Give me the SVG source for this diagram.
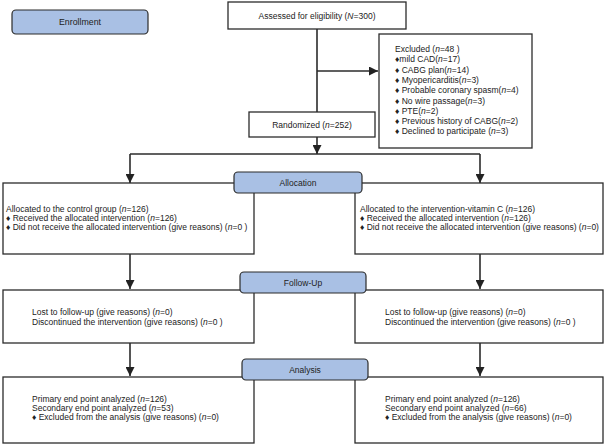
<svg xmlns="http://www.w3.org/2000/svg" width="606" height="444" viewBox="0 0 606 444">
<defs>
<style>
.box{fill:#fff;stroke:#2b2b2b;stroke-width:1.3}
.lbl{fill:#a9c0e4;stroke:#2b2b2b;stroke-width:1.2}
.t{font-family:"Liberation Sans",Arial,sans-serif;font-size:8.5px;fill:#222}
.c{text-anchor:middle}
.ln{fill:none;stroke:#2b2b2b;stroke-width:1.6}
.i{font-style:italic}
</style>
<marker id="ah" viewBox="0 0 10 10" refX="10" refY="5" markerWidth="9" markerHeight="9" markerUnits="userSpaceOnUse" orient="auto">
<path d="M0,0 L10,5 L0,10 Z" fill="#222"/>
</marker>
</defs>
<rect width="606" height="444" fill="#fff"/>
<g id="connectors">
<path class="ln" d="M317,29 V112"/>
<path class="ln" d="M317,71 H378" marker-end="url(#ah)"/>
<path class="ln" d="M317,137 V154" marker-end="url(#ah)"/>
<path class="ln" d="M130,154 H480"/>
<path class="ln" d="M130,154 V183" marker-end="url(#ah)"/>
<path class="ln" d="M480,154 V183" marker-end="url(#ah)"/>
<path class="ln" d="M130,254 V289" marker-end="url(#ah)"/>
<path class="ln" d="M480,254 V289" marker-end="url(#ah)"/>
<path class="ln" d="M130,343 V376" marker-end="url(#ah)"/>
<path class="ln" d="M480,343 V376" marker-end="url(#ah)"/>
</g>
<g id="enrollment">
<rect class="lbl" x="12" y="10" width="136" height="24" rx="4"/>
<text class="t c" x="80" y="25" style="font-size:8.8px">Enrollment</text>
</g>
<g id="assessed">
<rect class="box" x="228" y="2" width="178" height="27"/>
<text class="t c" x="317" y="19">Assessed for eligibility (<tspan class="i">N</tspan>=300)</text>
</g>
<g id="excluded">
<rect class="box" x="379" y="34" width="153" height="114"/>
<text class="t" x="395" y="52">Excluded (<tspan class="i">n</tspan>=48 )</text>
<text class="t" x="395" y="62.3">♦mild CAD(<tspan class="i">n</tspan>=17)</text>
<text class="t" x="395" y="72.6">♦ CABG plan(<tspan class="i">n</tspan>=14)</text>
<text class="t" x="395" y="82.9">♦ Myopericarditis(<tspan class="i">n</tspan>=3)</text>
<text class="t" x="395" y="93.2">♦ Probable coronary spasm(<tspan class="i">n</tspan>=4)</text>
<text class="t" x="395" y="103.5">♦ No wire passage(<tspan class="i">n</tspan>=3)</text>
<text class="t" x="395" y="113.8">♦ PTE(<tspan class="i">n</tspan>=2)</text>
<text class="t" x="395" y="124.1">♦ Previous history of CABG(<tspan class="i">n</tspan>=2)</text>
<text class="t" x="395" y="134.4">♦ Declined to participate (<tspan class="i">n</tspan>=3)</text>
</g>
<g id="randomized">
<rect class="box" x="249" y="112" width="126" height="25"/>
<text class="t c" x="312" y="127.5">Randomized (<tspan class="i">n</tspan>=252)</text>
</g>
<g id="alloc-left">
<rect class="box" x="3" y="183" width="251" height="71"/>
<text class="t" x="6" y="212">Allocated to the control group (<tspan class="i">n</tspan>=126)</text>
<text class="t" x="6" y="221">♦ Received the allocated intervention (<tspan class="i">n</tspan>=126)</text>
<text class="t" x="6" y="230">♦ Did not receive the allocated intervention (give reasons) (<tspan class="i">n</tspan>=0 )</text>
</g>
<g id="alloc-right">
<rect class="box" x="355" y="183" width="248" height="71"/>
<text class="t" x="360" y="212">Allocated to the intervention-vitamin C (<tspan class="i">n</tspan>=126)</text>
<text class="t" x="360" y="221">♦ Received the allocated intervention (<tspan class="i">n</tspan>=126)</text>
<text class="t" x="360" y="230">♦ Did not receive the allocated intervention (give reasons) (<tspan class="i">n</tspan>=0)</text>
</g>
<g id="allocation">
<rect class="lbl" x="234" y="172" width="128" height="21" rx="4"/>
<text class="t c" x="298" y="185.5">Allocation</text>
</g>
<g id="follow-left">
<rect class="box" x="3" y="290" width="251" height="53"/>
<text class="t" x="32" y="315">Lost to follow-up (give reasons) (<tspan class="i">n</tspan>=0)</text>
<text class="t" x="32" y="324.5">Discontinued the intervention (give reasons) (<tspan class="i">n</tspan>=0 )</text>
</g>
<g id="follow-right">
<rect class="box" x="355" y="290" width="248" height="53"/>
<text class="t" x="385" y="315">Lost to follow-up (give reasons) (<tspan class="i">n</tspan>=0)</text>
<text class="t" x="385" y="324.5">Discontinued the intervention (give reasons) (<tspan class="i">n</tspan>=0 )</text>
</g>
<g id="followup">
<rect class="lbl" x="240" y="272" width="126" height="21" rx="4"/>
<text class="t c" x="303" y="285.5">Follow-Up</text>
</g>
<g id="analysis-left">
<rect class="box" x="3" y="377" width="251" height="66"/>
<text class="t" x="32" y="402">Primary end point analyzed (<tspan class="i">n</tspan>=126)</text>
<text class="t" x="32" y="411">Secondary end point analyzed (<tspan class="i">n</tspan>=53)</text>
<text class="t" x="32" y="420">♦ Excluded from the analysis (give reasons) (<tspan class="i">n</tspan>=0)</text>
</g>
<g id="analysis-right">
<rect class="box" x="355" y="377" width="248" height="66"/>
<text class="t" x="385" y="402">Primary end point analyzed (<tspan class="i">n</tspan>=126)</text>
<text class="t" x="385" y="411">Secondary end point analyzed (<tspan class="i">n</tspan>=66)</text>
<text class="t" x="385" y="420">♦ Excluded from the analysis (give reasons) (<tspan class="i">n</tspan>=0)</text>
</g>
<g id="analysis">
<rect class="lbl" x="242" y="359" width="126" height="21" rx="4"/>
<text class="t c" x="305" y="372.5">Analysis</text>
</g>
</svg>
